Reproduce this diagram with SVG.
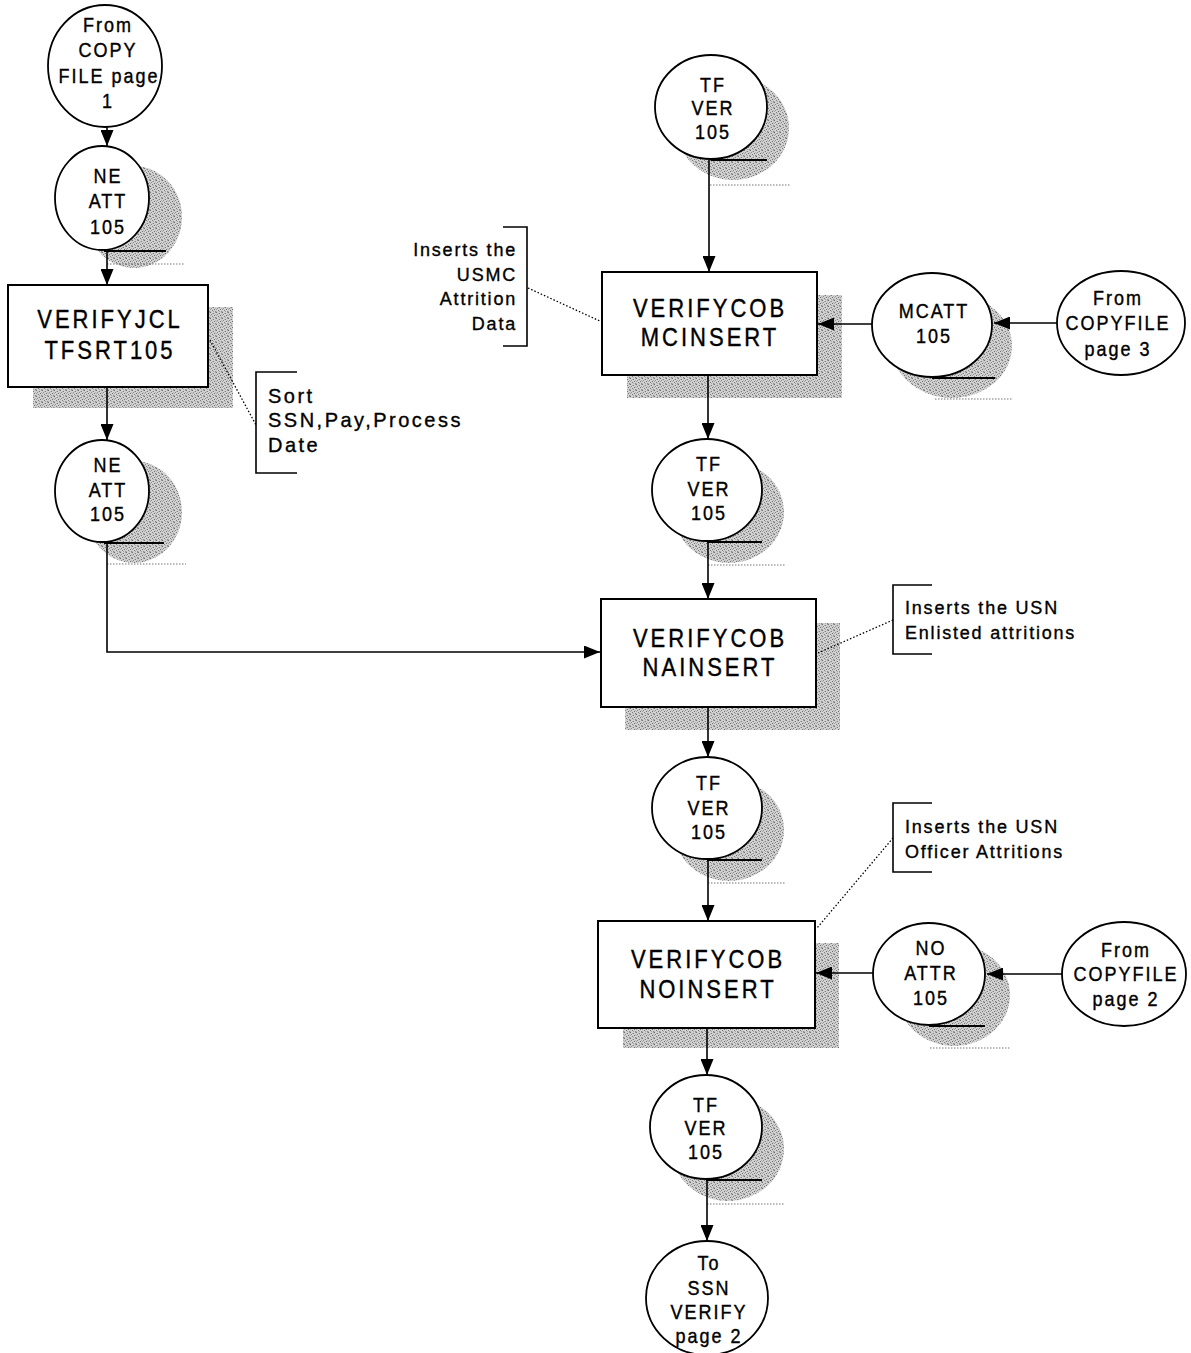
<svg xmlns="http://www.w3.org/2000/svg" width="1191" height="1353" viewBox="0 0 1191 1353">
  <defs>
    <!-- halftone stipple used for drop shadows -->
    <pattern id="stipple" width="6" height="6" patternUnits="userSpaceOnUse">
      <rect width="6" height="6" fill="#d2d2d2"/>
      <rect x="0" y="0" width="1" height="1" fill="#6e6e6e"/>
      <rect x="3" y="1" width="1" height="1" fill="#7c7c7c"/>
      <rect x="1" y="2" width="1" height="1" fill="#8a8a8a"/>
      <rect x="4" y="3" width="1" height="1" fill="#6e6e6e"/>
      <rect x="2" y="4" width="1" height="1" fill="#7c7c7c"/>
      <rect x="5" y="5" width="1" height="1" fill="#8a8a8a"/>
      <rect x="5" y="0" width="1" height="1" fill="#a4a4a4"/>
      <rect x="0" y="3" width="1" height="1" fill="#a4a4a4"/>
      <rect x="3" y="5" width="1" height="1" fill="#a4a4a4"/>
      <rect x="2" y="1" width="1" height="1" fill="#b4b4b4"/>
      <rect x="5" y="2" width="1" height="1" fill="#b4b4b4"/>
      <rect x="0" y="5" width="1" height="1" fill="#b4b4b4"/>
    </pattern>
    <marker id="arrow" markerWidth="16" markerHeight="13" refX="16" refY="6.5" orient="auto" markerUnits="userSpaceOnUse">
      <path d="M0,0 L16,6.5 L0,13 z" fill="#000"/>
    </marker>
    <style>
      .node { fill: #fff; stroke: #000; stroke-width: 1.8; }
      .box { fill: #fff; stroke: #000; stroke-width: 2; }
      .shadow { fill: url(#stipple); stroke: none; }
      .tail { stroke: #000; stroke-width: 1.8; }
      .dots { stroke: #777; stroke-width: 1.2; stroke-dasharray: 1.5 1.5; }
      .leader { fill: none; stroke: #000; stroke-width: 1.3; stroke-dasharray: 1.5 2; }
      .bracket { fill: none; stroke: #000; stroke-width: 1.6; }
      .conn { fill: none; stroke: #000; stroke-width: 1.6; marker-end: url(#arrow); }
      text { font-family: "Liberation Sans", Arial, sans-serif; fill: #000; stroke: #000; stroke-width: 0.35; }
      .ct { font-size: 18px; letter-spacing: 2px; text-anchor: middle; }
      .bt { font-size: 22px; letter-spacing: 3px; text-anchor: middle; }
      .nt { font-size: 18px; letter-spacing: 1.8px; }
      .st { font-size: 20px; letter-spacing: 2.5px; }
    </style>
  </defs>

  <rect width="1191" height="1353" fill="#fff"/>

  <!-- left column -->
  <g id="from-copyfile-p1">
    <ellipse class="node" cx="105" cy="66" rx="57" ry="61"/>
    <text class="ct" transform="translate(108 32) scale(1 1.08)">From</text>
    <text class="ct" transform="translate(108 57) scale(1 1.08)">COPY</text>
    <text class="ct" transform="translate(109 83) scale(1 1.08)">FILE page</text>
    <text class="ct" transform="translate(108 108) scale(1 1.08)">1</text>
  </g>

  <g id="ne-att-105-a">
    <ellipse class="shadow" cx="134" cy="217" rx="48" ry="51"/>
    <line class="dots" x1="107" y1="264" x2="184" y2="264"/>
    <ellipse class="node" cx="102" cy="198" rx="47" ry="52"/>
    <line class="tail" x1="104" y1="251" x2="166" y2="251"/>
    <text class="ct" transform="translate(108 183) scale(1 1.08)">NE</text>
    <text class="ct" transform="translate(108 208) scale(1 1.08)">ATT</text>
    <text class="ct" transform="translate(108 234) scale(1 1.08)">105</text>
  </g>

  <g id="verifyjcl-tfsrt105">
    <rect class="shadow" x="33" y="307" width="200" height="101"/>
    <rect class="box" x="8" y="285" width="200" height="102"/>
    <text class="bt" transform="translate(110 328) scale(1 1.13)">VERIFYJCL</text>
    <text class="bt" transform="translate(110 359) scale(1 1.13)">TFSRT105</text>
  </g>

  <g id="ne-att-105-b">
    <ellipse class="shadow" cx="134" cy="512" rx="48" ry="51"/>
    <line class="dots" x1="107" y1="564" x2="186" y2="564"/>
    <ellipse class="node" cx="102" cy="491" rx="47" ry="51"/>
    <line class="tail" x1="104" y1="543" x2="164" y2="543"/>
    <text class="ct" transform="translate(108 472) scale(1 1.08)">NE</text>
    <text class="ct" transform="translate(108 497) scale(1 1.08)">ATT</text>
    <text class="ct" transform="translate(108 521) scale(1 1.08)">105</text>
  </g>

  <g id="note-sort">
    <path class="bracket" d="M297,372 H256 V473 H297"/>
    <text class="st" transform="translate(268 403) scale(1 1.05)">Sort</text>
    <text class="st" transform="translate(268 427) scale(1 1.05)">SSN,Pay,Process</text>
    <text class="st" transform="translate(268 452) scale(1 1.05)">Date</text>
  </g>

  <!-- right column -->
  <g id="tf-ver-105-a">
    <ellipse class="shadow" cx="733" cy="128" rx="56" ry="52"/>
    <line class="dots" x1="710" y1="185" x2="790" y2="185"/>
    <ellipse class="node" cx="711" cy="107" rx="56" ry="52"/>
    <line class="tail" x1="711" y1="160" x2="767" y2="160"/>
    <text class="ct" transform="translate(713 92) scale(1 1.08)">TF</text>
    <text class="ct" transform="translate(713 115) scale(1 1.08)">VER</text>
    <text class="ct" transform="translate(713 139) scale(1 1.08)">105</text>
  </g>

  <g id="note-usmc">
    <path class="bracket" d="M503,227 H527 V346 H503"/>
    <text class="nt" text-anchor="end" transform="translate(517 256) scale(1 1.05)">Inserts the</text>
    <text class="nt" text-anchor="end" transform="translate(517 281) scale(1 1.05)">USMC</text>
    <text class="nt" text-anchor="end" transform="translate(517 305) scale(1 1.05)">Attrition</text>
    <text class="nt" text-anchor="end" transform="translate(517 330) scale(1 1.05)">Data</text>
  </g>

  <g id="verifycob-mcinsert">
    <rect class="shadow" x="627" y="295" width="215" height="103"/>
    <rect class="box" x="602" y="272" width="215" height="103"/>
    <text class="bt" transform="translate(710 317) scale(1 1.13)">VERIFYCOB</text>
    <text class="bt" transform="translate(710 346) scale(1 1.13)">MCINSERT</text>
  </g>

  <g id="mcatt-105">
    <ellipse class="shadow" cx="952" cy="346" rx="60" ry="52"/>
    <line class="dots" x1="935" y1="399" x2="1012" y2="399"/>
    <ellipse class="node" cx="932" cy="325" rx="60" ry="52"/>
    <line class="tail" x1="932" y1="378" x2="995" y2="378"/>
    <text class="ct" transform="translate(934 318) scale(1 1.08)">MCATT</text>
    <text class="ct" transform="translate(934 343) scale(1 1.08)">105</text>
  </g>

  <g id="from-copyfile-p3">
    <ellipse class="node" cx="1121" cy="323" rx="64" ry="52"/>
    <text class="ct" transform="translate(1118 305) scale(1 1.08)">From</text>
    <text class="ct" transform="translate(1118 330) scale(1 1.08)">COPYFILE</text>
    <text class="ct" transform="translate(1118 356) scale(1 1.08)">page 3</text>
  </g>

  <g id="tf-ver-105-b">
    <ellipse class="shadow" cx="729" cy="512" rx="55" ry="51"/>
    <line class="dots" x1="708" y1="565" x2="786" y2="565"/>
    <ellipse class="node" cx="707" cy="490" rx="55" ry="51"/>
    <line class="tail" x1="707" y1="542" x2="762" y2="542"/>
    <text class="ct" transform="translate(709 471) scale(1 1.08)">TF</text>
    <text class="ct" transform="translate(709 496) scale(1 1.08)">VER</text>
    <text class="ct" transform="translate(709 520) scale(1 1.08)">105</text>
  </g>

  <g id="verifycob-nainsert">
    <rect class="shadow" x="625" y="623" width="215" height="107"/>
    <rect class="box" x="601" y="599" width="215" height="108"/>
    <text class="bt" transform="translate(710 647) scale(1 1.13)">VERIFYCOB</text>
    <text class="bt" transform="translate(710 676) scale(1 1.13)">NAINSERT</text>
  </g>

  <g id="note-enlisted">
    <path class="bracket" d="M932,585 H893 V654 H932"/>
    <text class="nt" transform="translate(905 614) scale(1 1.05)">Inserts the USN</text>
    <text class="nt" transform="translate(905 639) scale(1 1.05)">Enlisted attritions</text>
  </g>

  <g id="tf-ver-105-c">
    <ellipse class="shadow" cx="729" cy="830" rx="55" ry="51"/>
    <line class="dots" x1="708" y1="883" x2="786" y2="883"/>
    <ellipse class="node" cx="707" cy="808" rx="55" ry="51"/>
    <line class="tail" x1="707" y1="860" x2="762" y2="860"/>
    <text class="ct" transform="translate(709 790) scale(1 1.08)">TF</text>
    <text class="ct" transform="translate(709 815) scale(1 1.08)">VER</text>
    <text class="ct" transform="translate(709 839) scale(1 1.08)">105</text>
  </g>

  <g id="note-officer">
    <path class="bracket" d="M932,803 H893 V872 H932"/>
    <text class="nt" transform="translate(905 833) scale(1 1.05)">Inserts the USN</text>
    <text class="nt" transform="translate(905 858) scale(1 1.05)">Officer Attritions</text>
  </g>

  <g id="verifycob-noinsert">
    <rect class="shadow" x="623" y="943" width="216" height="105"/>
    <rect class="box" x="598" y="921" width="217" height="107"/>
    <text class="bt" transform="translate(708 968) scale(1 1.13)">VERIFYCOB</text>
    <text class="bt" transform="translate(708 998) scale(1 1.13)">NOINSERT</text>
  </g>

  <g id="no-attr-105">
    <ellipse class="shadow" cx="954" cy="995" rx="56" ry="51"/>
    <line class="dots" x1="930" y1="1048" x2="1010" y2="1048"/>
    <ellipse class="node" cx="929" cy="974" rx="56" ry="51"/>
    <line class="tail" x1="929" y1="1026" x2="985" y2="1026"/>
    <text class="ct" transform="translate(931 955) scale(1 1.08)">NO</text>
    <text class="ct" transform="translate(931 980) scale(1 1.08)">ATTR</text>
    <text class="ct" transform="translate(931 1005) scale(1 1.08)">105</text>
  </g>

  <g id="from-copyfile-p2">
    <ellipse class="node" cx="1124" cy="974" rx="62" ry="52"/>
    <text class="ct" transform="translate(1126 957) scale(1 1.08)">From</text>
    <text class="ct" transform="translate(1126 981) scale(1 1.08)">COPYFILE</text>
    <text class="ct" transform="translate(1126 1006) scale(1 1.08)">page 2</text>
  </g>

  <g id="tf-ver-105-d">
    <ellipse class="shadow" cx="728" cy="1149" rx="56" ry="52"/>
    <line class="dots" x1="707" y1="1204" x2="785" y2="1204"/>
    <ellipse class="node" cx="706" cy="1127" rx="56" ry="52"/>
    <line class="tail" x1="706" y1="1180" x2="762" y2="1180"/>
    <text class="ct" transform="translate(706 1112) scale(1 1.08)">TF</text>
    <text class="ct" transform="translate(706 1135) scale(1 1.08)">VER</text>
    <text class="ct" transform="translate(706 1159) scale(1 1.08)">105</text>
  </g>

  <g id="to-ssn-verify-p2">
    <ellipse class="node" cx="707" cy="1298" rx="61" ry="57"/>
    <text class="ct" transform="translate(709 1270) scale(1 1.08)">To</text>
    <text class="ct" transform="translate(709 1295) scale(1 1.08)">SSN</text>
    <text class="ct" transform="translate(709 1319) scale(1 1.08)">VERIFY</text>
    <text class="ct" transform="translate(709 1343) scale(1 1.08)">page 2</text>
  </g>

  <!-- connectors and note leaders -->
  <g id="connectors">
    <path class="conn" d="M107,127 V146"/>
    <path class="conn" d="M107,251 V285"/>
    <path class="conn" d="M107,387 V440"/>
    <path class="conn" d="M107,543 V652 H600"/>

    <path class="conn" d="M709,160 V272"/>
    <path class="conn" d="M708,375 V439"/>
    <path class="conn" d="M708,542 V599"/>
    <path class="conn" d="M708,707 V757"/>
    <path class="conn" d="M708,860 V921"/>
    <path class="conn" d="M707,1028 V1075"/>
    <path class="conn" d="M707,1180 V1241"/>

    <path class="conn" d="M872,324 H818"/>
    <path class="conn" d="M1057,323 H994"/>
    <path class="conn" d="M873,973 H816"/>
    <path class="conn" d="M1062,974 H987"/>

    <path class="leader" d="M210,340 L256,425"/>
    <path class="leader" d="M528,288 L602,322"/>
    <path class="leader" d="M893,620 L818,653"/>
    <path class="leader" d="M893,838 L817,928"/>
  </g>
</svg>
